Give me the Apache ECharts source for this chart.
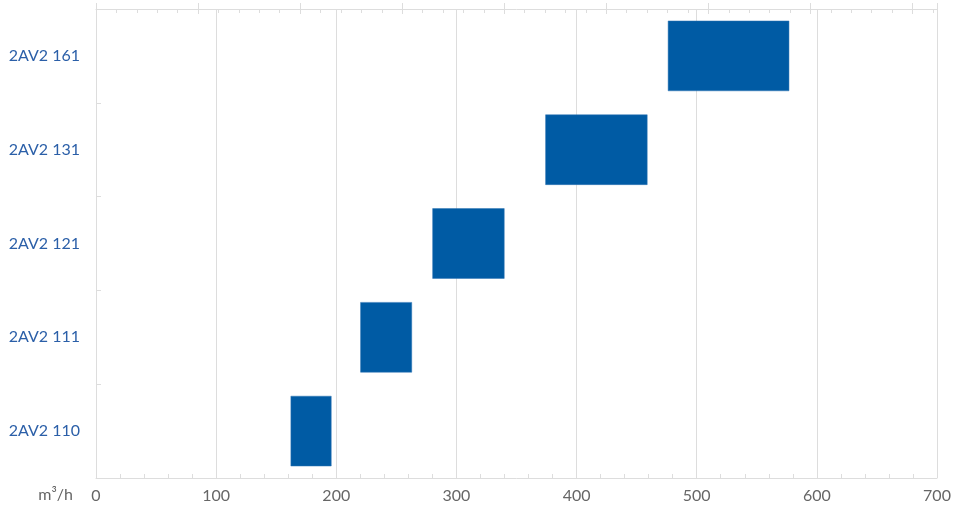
<!DOCTYPE html>
<html>
<head>
<meta charset="utf-8">
<script src="https://cdn.jsdelivr.net/npm/echarts@6/dist/echarts.min.js"></script>
<style>
html,body{margin:0;padding:0;background:#fff;}
#chart{width:966px;height:523px;}
</style>
</head>
<body>
<div id="chart"></div>
<script>
const categories = ['2AV2 110', '2AV2 111', '2AV2 121', '2AV2 131', '2AV2 161'];
const lowValues  = [162, 220, 280, 374, 476];
const highValues = [196, 263, 340, 459, 577];
const xTickValues = [0, 100, 200, 300, 400, 500, 600, 700];
const unitLabel = 'm³/h';
const M3H_TO_CFM = 0.58858;

const rangeValues = highValues.map((h, i) => h - lowValues[i]);
const xMax = xTickValues[xTickValues.length - 1];
const gridColor = '#dddddd';
const font = 'Lato';

const chart = echarts.init(document.getElementById('chart'), null, {renderer: 'canvas'});
chart.setOption({
  animation: false,
  backgroundColor: '#ffffff',
  grid: {left: 96, right: 29, top: 9, bottom: 45, containLabel: false},
  xAxis: [
    {
      type: 'value', position: 'bottom', min: 0, max: xMax, interval: 100,
      name: unitLabel, nameLocation: 'start', nameGap: 23,
      nameTextStyle: {color: '#666', fontSize: 16, fontFamily: font, verticalAlign: 'top', padding: [9, 0, 0, 0]},
      axisLine: {show: true, lineStyle: {color: gridColor, width: 1}},
      axisTick: {show: true, inside: true, length: 5, lineStyle: {color: gridColor}},
      minorTick: {show: true, splitNumber: 5, length: 4, lineStyle: {color: gridColor}},
      axisLabel: {color: '#666', fontSize: 16, fontFamily: font, margin: 10,
        formatter: v => xTickValues.includes(v) ? String(v) : ''},
      splitLine: {show: true, lineStyle: {color: gridColor, width: 1}}
    },
    {
      type: 'value', position: 'top', min: 0, max: xMax * M3H_TO_CFM, interval: 50,
      axisLine: {show: true, lineStyle: {color: gridColor, width: 1}},
      axisTick: {show: true, inside: true, length: 5, lineStyle: {color: gridColor}},
      minorTick: {show: true, splitNumber: 5, length: 4, lineStyle: {color: gridColor}},
      axisLabel: {show: false},
      splitLine: {show: false}
    },
    {
      type: 'value', position: 'top', min: 0, max: xMax * M3H_TO_CFM, interval: 50,
      axisLine: {show: false},
      axisTick: {show: true, inside: false, length: 6, lineStyle: {color: gridColor}},
      axisLabel: {show: false},
      splitLine: {show: false}
    }
  ],
  yAxis: {
    type: 'category', data: categories,
    axisLine: {show: true, lineStyle: {color: gridColor, width: 1}},
    axisTick: {show: true, inside: true, length: 5, lineStyle: {color: gridColor}},
    axisLabel: {color: '#2b5fa8', fontSize: 16, fontFamily: font, margin: 16},
    splitLine: {show: false}
  },
  series: [
    {
      type: 'bar', stack: 'r', data: lowValues, barWidth: '75%',
      itemStyle: {color: 'rgba(0,0,0,0)'}, silent: true
    },
    {
      type: 'bar', stack: 'r', data: rangeValues, barWidth: '75%',
      itemStyle: {color: '#005ba4', borderColor: '#2f74b5', borderWidth: 0.5}
    }
  ]
});
</script>
</body>
</html>
